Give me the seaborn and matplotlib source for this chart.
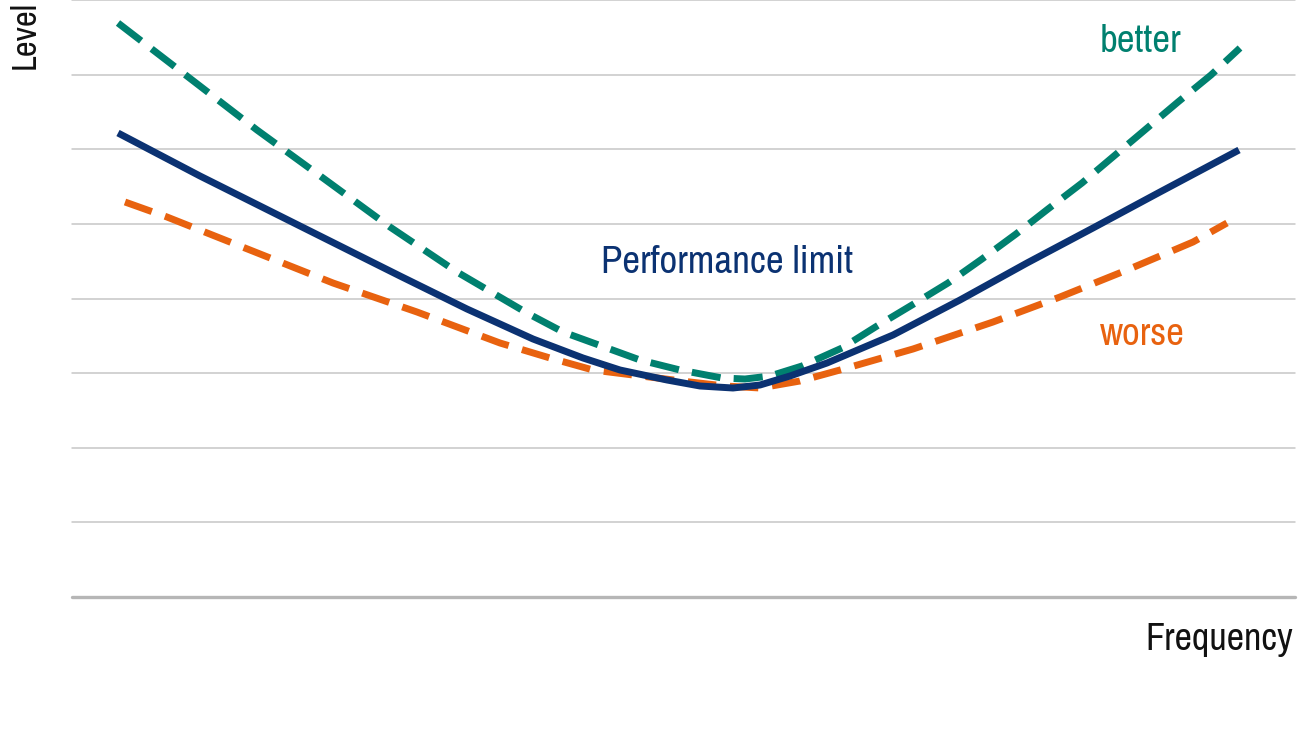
import matplotlib
matplotlib.use("Agg")
import matplotlib.pyplot as plt
from matplotlib import font_manager
import seaborn as sns
import numpy as np
import pandas as pd

# ---- Data (x: frequency, arbitrary 0-1223 scale; y: level, arbitrary 0-597 scale)
better_x = [46, 111, 185, 251, 318, 385, 455, 491, 535, 568, 608, 650, 673, 698,
            730, 770, 805, 840, 876, 910, 944, 976, 1010, 1042, 1074, 1106, 1139, 1168]
better_y = [574, 524, 467, 419, 370, 325, 284, 265, 249, 237, 227, 219, 218, 221,
            231, 249, 271, 292, 314, 338, 363, 388, 414, 441, 468, 495, 522, 549]

perf_x = [46, 128, 228, 328, 395, 461, 511, 548, 595, 628, 661, 688, 718, 755,
          821, 888, 955, 1021, 1088, 1167]
perf_y = [464, 421, 371, 321, 288, 258, 239, 227, 217, 211, 209, 212, 221, 234,
          262, 297, 334, 369, 405, 447]

worse_x = [53, 95, 178, 261, 345, 428, 478, 521, 561, 618, 653, 688, 728, 768,
           841, 921, 988, 1055, 1121, 1155]
worse_y = [395, 380, 347, 314, 285, 254, 239, 227, 222, 215, 211, 209, 216, 227,
           248, 275, 300, 327, 355, 374]

labels = ["better", "Performance limit", "worse"]
label_x = [1028, 529, 1028]
label_y = [545, 324, 252]

x_title = "Frequency"
y_title = "Level"

colors = {"better": "#00806F", "perf": "#0B3272", "worse": "#E8620F"}

sns.set_theme(style="white")

# pick a narrow / condensed face if one is installed
names = {f.name for f in font_manager.fontManager.ttflist}
cond = [f.name for f in font_manager.fontManager.ttflist
        if ("Narrow" in f.name or "Condensed" in f.name)]
fam = []
if cond:
    fam.append(sorted(cond)[0])
for cand in ["Roboto", "Liberation Sans", "DejaVu Sans"]:
    if cand in names:
        fam.append(cand)
fam.append("DejaVu Sans")
plt.rcParams["font.family"] = fam
plt.rcParams["font.stretch"] = "condensed"

fig = plt.figure(figsize=(13, 7.31), dpi=100)
ax = fig.add_axes([72 / 1300, 1 - 597 / 731, (1295 - 72) / 1300, 597 / 731])

df_b = pd.DataFrame({"x": better_x, "y": better_y})
df_p = pd.DataFrame({"x": perf_x, "y": perf_y})
df_w = pd.DataFrame({"x": worse_x, "y": worse_y})

lw = 5.0
sns.lineplot(data=df_w, x="x", y="y", ax=ax, color=colors["worse"], lw=lw,
             sort=False, zorder=3)
ax.lines[-1].set_dashes([4.1, 2.0])
sns.lineplot(data=df_b, x="x", y="y", ax=ax, color=colors["better"], lw=lw,
             sort=False, zorder=4)
ax.lines[-1].set_dashes([4.2, 1.9])
sns.lineplot(data=df_p, x="x", y="y", ax=ax, color=colors["perf"], lw=lw,
             sort=False, zorder=5)
for l in ax.lines:
    l.set_solid_capstyle("butt")
    l.set_dash_capstyle("butt")
    l.set_solid_joinstyle("round")
    l.set_dash_joinstyle("round")

ax.set_xlim(0, 1223)
ax.set_ylim(0, 597)
for yv in np.linspace(0, 597, 9)[1:]:
    ax.axhline(yv, color="#c6c6c6", lw=1.1, zorder=1, clip_on=False)
ax.axhline(0, color="#b6b6b6", lw=2.4, zorder=1, clip_on=False)
for s in ax.spines.values():
    s.set_visible(False)
ax.set_xticks([])
ax.set_yticks([])
ax.set_xlabel("")
ax.set_ylabel("")
ax.patch.set_alpha(0)

fs = 28
label_colors = [colors["better"], colors["perf"], colors["worse"]]
for t, x, y, c in zip(labels, label_x, label_y, label_colors):
    ax.text(x, y, t, color=c, fontsize=fs, ha="left", va="baseline")

fig.text(1293 / 1300, 1 - 650 / 731, x_title, ha="right", va="baseline",
         fontsize=27.5, color="#111111")
fig.text(35 / 1300, 1 - 1 / 731, y_title, ha="right", va="baseline", rotation=90,
         rotation_mode="anchor", fontsize=25, color="#111111")

fig.savefig("out.png", dpi=100, facecolor="white")
